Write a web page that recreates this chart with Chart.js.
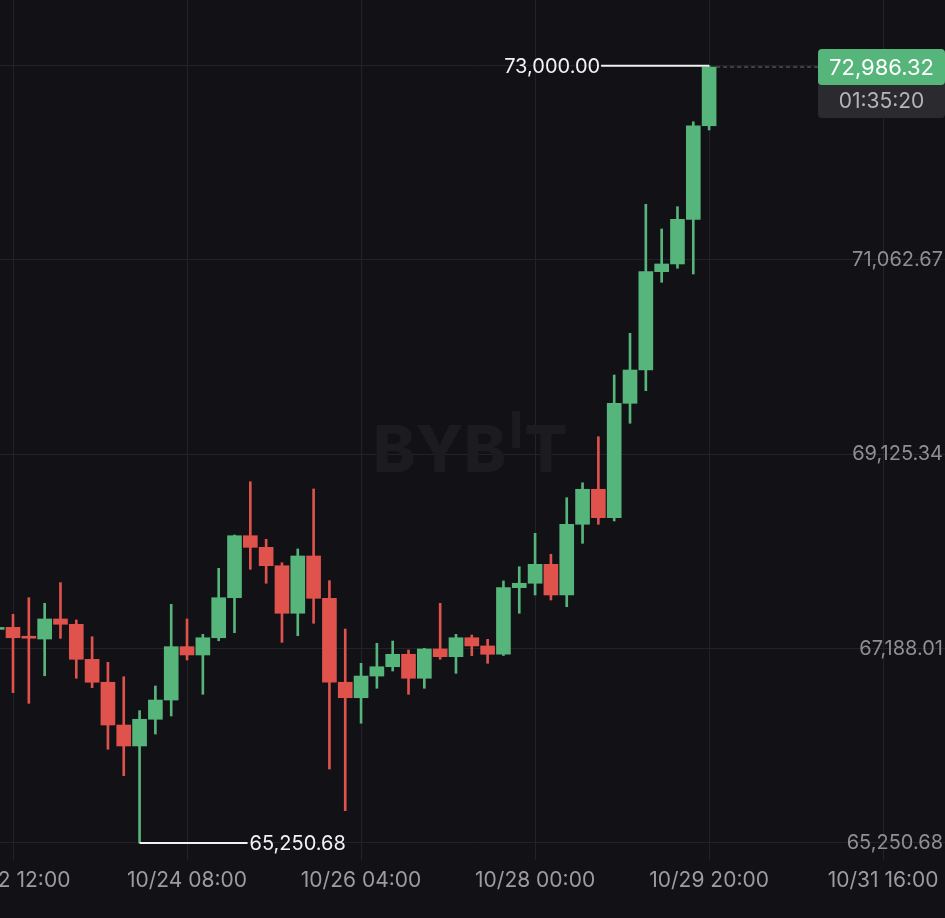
<!DOCTYPE html>
<html>
<head>
<meta charset="utf-8">
<title>BTCUSDT 4H</title>
<script src="https://cdn.jsdelivr.net/npm/chart.js@4.4.1/dist/chart.umd.min.js"></script>
<style>
    html, body { margin: 0; padding: 0; background: #111116; overflow: hidden; }
    #wrap { width: 945px; height: 918px; position: relative; }
</style>
</head>
<body>
<div id="wrap"><canvas id="chart"></canvas></div>
<script>
// 4h candle slots, 0 = 10/22 12:00
const slots = [-1, 0, 1, 2, 3, 4, 5, 6, 7, 8, 9, 10, 11, 12, 13, 14, 15, 16, 17, 18, 19, 20, 21, 22,
    23, 24, 25, 26, 27, 28, 29, 30, 31, 32, 33, 34, 35, 36, 37, 38, 39, 40, 41, 42, 43, 44];

const opens = [67380, 67401, 67310, 67284, 67484, 67431, 67082, 66853, 66427, 66218, 66484, 66676,
    67208, 67125, 67297, 67696, 68314, 68198, 68015, 67541, 68112, 67690, 66853, 66699, 66915, 67008,
    67132, 66893, 67185, 67108, 67297, 67215, 67132, 67796, 67840, 68029, 67723, 68428, 68777, 68494,
    69634, 69966, 70946, 71023, 71468, 72401];
const highs = [67410, 67531, 67696, 67640, 67846, 67474, 67307, 67052, 66908, 66570, 66816, 67630,
    67484, 67331, 67989, 68321, 68852, 68278, 68045, 68182, 68780, 67866, 67384, 67042, 67241, 67264,
    67175, 67192, 67640, 67331, 67324, 67281, 67863, 68005, 68338, 68129, 68693, 68842, 69301, 69916,
    70332, 71618, 71372, 71594, 72441, 73000];
const lows = [67360, 66749, 66643, 66918, 67291, 66893, 66799, 66185, 65922, 65250.68, 66337, 66517,
    67075, 66733, 67267, 67347, 67979, 67840, 67251, 67317, 67441, 65988, 65573, 66444, 66793, 66965,
    66733, 66793, 67082, 66942, 67118, 67042, 67120, 67541, 67723, 67673, 67606, 68238, 68428, 68461,
    69435, 69760, 70840, 70980, 70923, 72359];
const closes = [67395, 67297, 67292, 67484, 67431, 67082, 66853, 66427, 66218, 66484, 66676, 67208,
    67125, 67297, 67696, 68314, 68198, 68015, 67541, 68112, 67690, 66853, 66699, 66915, 67008, 67132,
    66893, 67185, 67108, 67297, 67215, 67132, 67796, 67840, 68029, 67723, 68428, 68777, 68494, 69634,
    69966, 70946, 71023, 71468, 72401, 72986.32];

const xTickSlots = [0, 11, 22, 33, 44, 55];
const xTickLabels = ['10/22 12:00', '10/24 08:00', '10/26 04:00', '10/28 00:00', '10/29 20:00', '10/31 16:00'];
const yTickValues = [65250.68, 67188.01, 69125.34, 71062.67, 73000.00];
const countdown = '01:35:20';

const UP = '#56b57a';
const DOWN = '#e0524c';
const GRID = '#222227';
const FONT = 'Inter, "Noto Sans", sans-serif';

function fmt(v) {
    return v.toLocaleString('en-US', { minimumFractionDigits: 2, maximumFractionDigits: 2 });
}

const candleColors = opens.map((o, k) => closes[k] >= o ? UP : DOWN);

// Watermark, high/low markers and the last price tag
const overlayPlugin = {
    id: 'overlay',
    beforeDatasetsDraw(chart) {
        const ctx = chart.ctx;
        ctx.save();
        ctx.fillStyle = '#1b1b20';
        ctx.font = '800 64px ' + FONT;
        ctx.textBaseline = 'alphabetic';
        ctx.textAlign = 'left';
        ctx.fillText('BYB', 373, 472);
        const w = ctx.measureText('BYB').width;
        ctx.fillRect(373 + w + 6, 411, 8, 37);
        ctx.fillText('T', 373 + w + 18, 472);
        ctx.restore();
    },
    afterDraw(chart) {
        const ctx = chart.ctx;
        const xs = chart.scales.x;
        const ys = chart.scales.y;
        ctx.save();

        // highest high
        const hiIdx = highs.indexOf(Math.max(...highs));
        const hx = xs.getPixelForValue(slots[hiIdx]);
        const hy = ys.getPixelForValue(highs[hiIdx]);
        ctx.strokeStyle = '#f2f2f2';
        ctx.lineWidth = 2;
        ctx.beginPath();
        ctx.moveTo(hx, hy);
        ctx.lineTo(hx - 108, hy);
        ctx.stroke();
        ctx.fillStyle = '#f2f2f2';
        ctx.font = '20px ' + FONT;
        ctx.textBaseline = 'middle';
        ctx.textAlign = 'right';
        ctx.fillText(fmt(highs[hiIdx]), hx - 109, hy + 1);

        // lowest low
        const loIdx = lows.indexOf(Math.min(...lows));
        const lx = xs.getPixelForValue(slots[loIdx]);
        const ly = ys.getPixelForValue(lows[loIdx]);
        ctx.beginPath();
        ctx.moveTo(lx, ly);
        ctx.lineTo(lx + 108, ly);
        ctx.stroke();
        ctx.textAlign = 'left';
        ctx.fillText(fmt(lows[loIdx]), lx + 110, ly + 1);

        // last price dashed line + tag
        const last = closes.length - 1;
        const px = xs.getPixelForValue(slots[last]);
        const py = ys.getPixelForValue(closes[last]);
        const tagLeft = 818;
        ctx.strokeStyle = '#6d6d72';
        ctx.lineWidth = 1;
        ctx.setLineDash([4, 3]);
        ctx.beginPath();
        ctx.moveTo(px + 7, py);
        ctx.lineTo(tagLeft, py);
        ctx.stroke();
        ctx.setLineDash([]);

        ctx.fillStyle = '#2a2a2f';
        ctx.beginPath();
        ctx.roundRect(tagLeft, py + 10, chart.width - tagLeft, 41, 4);
        ctx.fill();
        ctx.fillStyle = UP;
        ctx.beginPath();
        ctx.roundRect(tagLeft, py - 18, chart.width - tagLeft, 36, 4);
        ctx.fill();

        ctx.textAlign = 'center';
        ctx.fillStyle = '#ffffff';
        ctx.font = '22px ' + FONT;
        ctx.fillText(fmt(closes[last]), tagLeft + (chart.width - tagLeft) / 2, py + 1);
        ctx.fillStyle = '#b4b4b9';
        ctx.font = '21px ' + FONT;
        ctx.fillText(countdown, tagLeft + (chart.width - tagLeft) / 2, py + 35);
        ctx.restore();
    }
};

const ctx = document.getElementById('chart');
new Chart(ctx, {
    type: 'bar',
    data: {
        datasets: [
            {
                label: 'body',
                data: slots.map((s, k) => ({ x: s, y: [opens[k], closes[k]] })),
                backgroundColor: candleColors,
                barThickness: 14,
                minBarLength: 2,
                grouped: false
            },
            {
                label: 'wick',
                data: slots.map((s, k) => ({ x: s, y: [lows[k], highs[k]] })),
                backgroundColor: candleColors,
                barThickness: 2,
                grouped: false
            }
        ]
    },
    options: {
        responsive: true,
        maintainAspectRatio: false,
        animation: false,
        layout: { padding: 0 },
        plugins: {
            legend: { display: false },
            tooltip: { enabled: false }
        },
        scales: {
            x: {
                type: 'linear',
                offset: false,
                min: -0.822,
                max: 58.91,
                grid: { color: GRID, offset: false, drawTicks: false },
                border: { display: false },
                afterBuildTicks: scale => {
                    scale.ticks = xTickSlots.map(v => ({ value: v }));
                },
                afterFit: scale => {
                    scale.height = 58;
                    scale.paddingLeft = 0;
                    scale.paddingRight = 0;
                },
                ticks: {
                    autoSkip: false,
                    maxRotation: 0,
                    padding: 8,
                    color: '#9c9ca1',
                    font: { family: FONT, size: 21 },
                    callback: (value, index) => xTickLabels[index]
                }
            },
            y: {
                position: 'right',
                min: 65081.2,
                max: 73654.6,
                grid: { color: GRID, drawTicks: false },
                border: { display: false },
                afterBuildTicks: scale => {
                    scale.ticks = yTickValues.map(v => ({ value: v }));
                },
                afterFit: scale => {
                    scale.width = 0;
                    scale.paddingTop = 0;
                    scale.paddingBottom = 0;
                },
                ticks: {
                    mirror: true,
                    padding: -2,
                    color: '#8e8e93',
                    font: { family: FONT, size: 20 },
                    callback: value => fmt(value)
                }
            }
        }
    },
    plugins: [overlayPlugin]
});
</script>
</body>
</html>
